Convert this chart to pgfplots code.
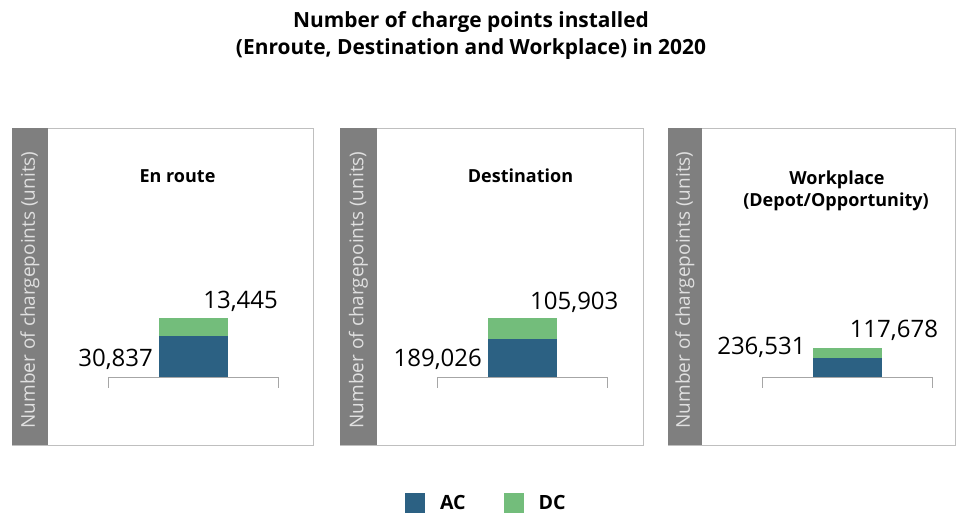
\documentclass[border=0pt]{standalone}
\usepackage{fontspec}
\setmainfont{Open Sans}
\usepackage{pgfplots}
\pgfplotsset{compat=1.18}
\definecolor{acblue}{HTML}{2C6183}
\definecolor{dcgreen}{HTML}{73BD7B}
\definecolor{bandgrey}{HTML}{7F7F7F}
\definecolor{boxgrey}{HTML}{BFBFBF}
\definecolor{basegrey}{HTML}{A6A6A6}
\pgfplotsset{
  panel/.style={ybar stacked, bar width=69pt, scale only axis, width=170pt, height=200pt,
    xmin=-1, xmax=1, ymin=0, hide axis, clip=false, anchor=south west},
}
\tikzset{numlab/.style={inner sep=0pt, font=\fontsize{24}{28}\selectfont}}
\newcommand{\baseln}{\draw[basegrey, line width=0.9pt] (rel axis cs:0,-0.055) -- (rel axis cs:0,0) -- (rel axis cs:1,0) -- (rel axis cs:1,-0.055);}
\begin{document}
\begin{tikzpicture}[x=1pt,y=1pt]
\useasboundingbox (0,0) rectangle (956,514);
% panel frames
\foreach \a/\b/\c in {12/48/313, 340/377/643, 668/702/955}{
  \draw[boxgrey, line width=0.8pt, fill=white] (\a,69) rectangle (\c,386);
  \fill[bandgrey] (\a,69) rectangle (\b,386);
  \node[rotate=90, text=white!88!black, font=\fontsize{19}{22}\selectfont, inner sep=0pt]
    at ({(\a+\b)/2}, 224) {Number of chargepoints (units)};
}
% titles
\node[anchor=base, font=\fontsize{20.9}{24}\selectfont\bfseries] at (471,486) {Number of charge points installed};
\node[anchor=base, font=\fontsize{20.9}{24}\selectfont\bfseries] at (471,459) {(Enroute, Destination and Workplace) in 2020};
\node[anchor=base, font=\fontsize{18}{21}\selectfont\bfseries] at (177.5,331) {En route};
\node[anchor=base, font=\fontsize{18}{21}\selectfont\bfseries] at (520.5,331) {Destination};
\node[anchor=base, font=\fontsize{18}{21}\selectfont\bfseries] at (837,329) {Workplace};
\node[anchor=base, font=\fontsize{18}{21}\selectfont\bfseries] at (836,307) {(Depot/Opportunity)};

% Panel 1: En route
\begin{axis}[panel, at={(108pt,137pt)}, ymax=150108]
\addplot[fill=acblue, draw=none] coordinates {(0,30837)};
\addplot[fill=dcgreen, draw=none] coordinates {(0,13445)};
\baseln
\node[numlab, anchor=base east] at (rel axis cs:0.265,0.05) {30,837};
\node[numlab, anchor=base west] at (rel axis cs:0.56,0.34) {13,445};
\end{axis}

% Panel 2: Destination
\begin{axis}[panel, at={(437pt,137pt)}, ymax=999759,
  legend columns=2,
  legend image code/.code={\fill[#1] (0pt,-10pt) rectangle (20pt,10pt);},
  legend style={at={(-0.188,-0.58)}, anchor=north west, draw=none, fill=none,
    inner sep=0pt, outer sep=0pt, font=\fontsize{19.6}{22}\selectfont\bfseries,
    nodes={inner sep=0pt, outer sep=0pt},
    /tikz/every odd column/.append style={column sep=15pt},
    /tikz/every even column/.append style={column sep=38pt}}]
\addplot[fill=acblue, draw=none] coordinates {(0,189026)};
\addplot[fill=dcgreen, draw=none] coordinates {(0,105903)};
\addlegendentry{AC}
\addlegendentry{DC}
\baseln
\node[numlab, anchor=base east] at (rel axis cs:0.265,0.055) {189,026};
\node[numlab, anchor=base west] at (rel axis cs:0.547,0.34) {105,903};
\end{axis}

% Panel 3: Workplace
\begin{axis}[panel, at={(762pt,137pt)}, ymax=2442821]
\addplot[fill=acblue, draw=none] coordinates {(0,236531)};
\addplot[fill=dcgreen, draw=none] coordinates {(0,117678)};
\baseln
\node[numlab, anchor=base east] at (rel axis cs:0.257,0.11) {236,531};
\node[numlab, anchor=base west] at (rel axis cs:0.515,0.195) {117,678};
\end{axis}
\end{tikzpicture}
\end{document}
